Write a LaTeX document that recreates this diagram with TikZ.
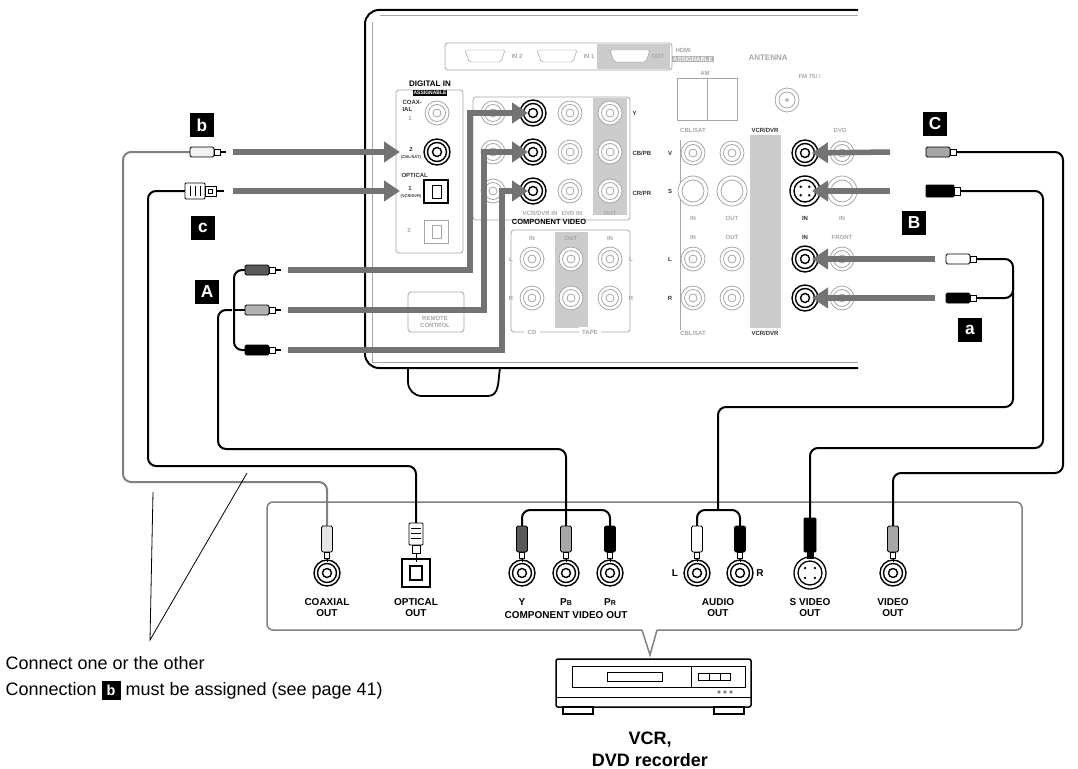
\documentclass[tikz,border=0pt]{standalone}
\usepackage{fontspec}
\setmainfont{Liberation Sans}
\usetikzlibrary{arrows.meta,calc}
\begin{document}
\begin{tikzpicture}[x=1pt,y=-1pt,
  hj/.pic={\draw[line width=1.4,fill=white] (0,0) circle (13) (0,0) circle (9.5) (0,0) circle (4.5);},
  gj/.pic={\draw[black!35,line width=0.8,fill=white] (0,0) circle (12) (0,0) circle (8.5) (0,0) circle (4);},
  hplug/.pic={\draw[line width=0.9,fill=#1,rounded corners=1.5] (-16,-5) rectangle (8,5); \draw[line width=0.9,fill=white] (8,-3) rectangle (14,3); \draw[line width=1.2] (14,0)--(20,0);},
  vplug/.pic={\draw[line width=0.9,fill=#1,rounded corners=1.5] (-5.5,-14) rectangle (5.5,12); \draw[line width=0.9,fill=white] (-2.5,12) rectangle (2.5,18); \draw[line width=0.9] (0,18)--(0,22);},
  arr/.style={black!55,line width=5.5,-{Triangle[length=16,width=20]}},
  cab/.style={line width=2,rounded corners=8},
  gcab/.style={cab,black!50},
  tag/.style={fill=black,text=white,font=\bfseries\LARGE,minimum size=24,inner sep=0},
  lab/.style={font=\bfseries\fontsize{10}{11}\selectfont,align=center},
  pl/.style={font=\bfseries\fontsize{6}{7}\selectfont,black!80},
  pg/.style={font=\bfseries\fontsize{6}{7}\selectfont,black!35},
]
\useasboundingbox (0,0) rectangle (1078,768);
% ---------------- receiver panel ----------------
\draw[line width=2,rounded corners=14] (858,10) -- (365,10) -- (365,368) -- (858,368);
\draw[line width=1.8] (408,368) -- (408,382) to[out=-90,in=180] (422,396) -- (488,396) to[out=0,in=-100] (500,368);
\draw[black!35,line width=1] (380,16) -- (858,16) (372,22) -- (372,362) -- (858,362);
% HDMI
\draw[black!35,line width=0.8,rounded corners=3] (445,43) rectangle (672,70);
\fill[black!20] (597,44) rectangle (670,69);
\foreach \x/\t in {465/IN 2,537/IN 1,610/} {\draw[black!45,fill=white,rounded corners=2] (\x,50) -- (\x+40,50) -- (\x+36,62) -- (\x+4,62) -- cycle; \node[pg,anchor=west] at (\x+43,56) {\t};}
\node[pg,anchor=west] at (648,56) {OUT};
\node[pg,anchor=west] at (672,50) {HDMI};
\node[pg,anchor=west,fill=black!30,text=white,inner sep=1] at (672,59) {ASSIGNABLE};
\node[pg,anchor=west,font=\bfseries\fontsize{8}{8}\selectfont] at (745,58) {ANTENNA};
\draw[black!35,line width=0.8] (677,78) rectangle (737,120) (707,78)--(707,120);
\node[pg] at (705,73) {AM}; \node[pg,anchor=west] at (795,76) {FM 75$\Omega$};
\draw[black!35,line width=0.8] (787,100) circle (12) (787,100) circle (8) (787,100) circle (1.5);
% Digital in
\draw[black!35,line width=0.8,rounded corners=3] (396,90) rectangle (463,253);
\node[font=\bfseries\fontsize{8}{8}\selectfont] at (430,84) {DIGITAL IN};
\node[font=\bfseries\fontsize{5}{5}\selectfont,fill=black,text=white,inner sep=1] at (430,93) {ASSIGNABLE};
\node[pl,align=left,anchor=north west] at (399,97) {COAX-\\IAL};
\node[pg] at (410,118) {1}; \pic at (437,113) {gj};
\node[pl] at (411,149) {2}; \node[pl,font=\bfseries\fontsize{4}{4}\selectfont] at (411,157) {(CBL/SAT)};
\pic at (437,152) {hj};
\node[pl,anchor=west] at (398,175) {OPTICAL};
\node[pl] at (410,188) {1}; \node[pl,font=\bfseries\fontsize{4}{4}\selectfont] at (411,196) {(VCR/DVR)};
\draw[line width=1.3] (424,180) rectangle (448,203); \draw[line width=1] (432,185) rectangle (441,198);
\node[pg] at (409,230) {2};
\draw[black!35,line width=0.8] (424,220) rectangle (448,243) (432,225) rectangle (441,238);
\draw[black!35,line width=0.8,rounded corners=3] (408,292) rectangle (464,332);
\node[pg,align=center] at (435,322) {REMOTE\\CONTROL};
% component video
\draw[black!35,line width=0.8,rounded corners=3] (473,97) rectangle (630,220);
\fill[black!20] (593,98) rectangle (627,215);
\foreach \y in {113,152,191} {\pic at (493,\y) {gj}; \pic at (570,\y) {gj}; \pic at (610,\y) {gj};}
\node[pl,anchor=west] at (629,113) {Y};
\node[pl,anchor=west] at (629,153) {CB/PB};
\node[pl,anchor=west] at (629,193) {CR/PR};
\node[pg] at (540,213) {VCR/DVR IN}; \node[pg] at (572,213) {DVD IN}; \node[pg] at (610,213) {OUT};
\node[font=\bfseries\fontsize{7.5}{8}\selectfont] at (549,222) {COMPONENT VIDEO};
\draw[black!35,line width=0.8,rounded corners=3] (511,230) rectangle (630,332);
\fill[black!20] (555,232) rectangle (588,328);
\foreach \x in {532,571,610} {\pic at (\x,259) {gj}; \pic at (\x,298) {gj};}
\node[pg] at (532,238) {IN}; \node[pg] at (571,238) {OUT}; \node[pg] at (610,238) {IN};
\node[pg] at (511,259) {L}; \node[pg] at (511,298) {R}; \node[pg] at (631,259) {L}; \node[pg] at (631,298) {R};
\node[pg,fill=white] at (532,332) {CD}; \node[pg,fill=white] at (590,332) {TAPE};
% right block
\draw[black!35,line width=0.8,rounded corners=3] (680,140) -- (680,330);
\fill[black!20] (750,135) rectangle (781,328);
\foreach \x in {693,732,842} {\pic at (\x,153) {gj}; \pic at (\x,259) {gj}; \pic at (\x,298) {gj};}
\foreach \x in {693,732,842} {\draw[black!35,line width=0.8,fill=white] (\x,191) circle (15) (\x,191) circle (11);}
\node[pg] at (693,130) {CBL/SAT}; \node[pl] at (765,130) {VCR/DVR}; \node[pg] at (840,130) {DVD};
\node[pg] at (693,333) {CBL/SAT}; \node[pl] at (765,333) {VCR/DVR};
\node[pl] at (670,153) {V}; \node[pl] at (670,191) {S}; \node[pl] at (670,259) {L}; \node[pl] at (670,298) {R};
\node[pg] at (693,218) {IN}; \node[pg] at (732,218) {OUT}; \node[pl] at (805,218) {IN}; \node[pg] at (842,218) {IN};
\node[pg] at (693,237) {IN}; \node[pg] at (732,237) {OUT}; \node[pl] at (805,237) {IN}; \node[pg] at (842,237) {FRONT};
% highlighted jacks
\pic at (533,113) {hj}; \pic at (533,152) {hj}; \pic at (533,191) {hj};
\pic at (805,153) {hj}; \pic at (805,259) {hj}; \pic at (805,298) {hj};
\draw[line width=1.4,fill=white] (805,191) circle (15) (805,191) circle (11);
\foreach \a in {45,135,-45,-135} \fill (805,191)++(\a:6) circle (1.3);
\coordinate (jY) at (528,113); \coordinate (jPB) at (528,152); \coordinate (jPR) at (528,191);
\coordinate (jCo) at (400,152); \coordinate (jOp) at (400,191);
\coordinate (jV) at (812,153); \coordinate (jS) at (812,191); \coordinate (jL) at (812,259); \coordinate (jR) at (812,298);
% ---------------- arrows ----------------
\coordinate (pb) at (206,152); \coordinate (pc) at (197,191);
\coordinate (pA1) at (261,270); \coordinate (pA2) at (261,310); \coordinate (pA3) at (261,350);
\coordinate (pC) at (942,152); \coordinate (pB) at (940,191); \coordinate (pa1) at (962,259); \coordinate (pa2) at (962,298);
\draw[arr] (233,152) -- (jCo);
\draw[arr] (233,191) -- (jOp);
\draw[arr] (288,270) -- (470,270) -- (470,113) -- (jY);
\draw[arr] (288,310) -- (484,310) -- (484,152) -- (jPB);
\draw[arr] (288,350) -- (502,350) -- (502,191) -- (jPR);
\draw[arr] (890,152) -- (jV);
\draw[arr] (890,191) -- (jS);
\draw[arr] (935,259) -- (jL);
\draw[arr] (935,298) -- (jR);
% ---------------- device panel ----------------
\draw[black!50,line width=1.5,rounded corners=6] (642,630) -- (267,630) -- (267,502) -- (1022,502) -- (1022,630) -- (657,630);
\draw[black!50,line width=1.5] (642,630) -- (650,655) -- (657,630);
\coordinate (oCo) at (327,573); \coordinate (oOp) at (416,573);
\coordinate (oY) at (522,573); \coordinate (oPB) at (566,573); \coordinate (oPR) at (610,573);
\coordinate (oL) at (697,573); \coordinate (oR) at (740,573); \coordinate (oS) at (810,573); \coordinate (oV) at (893,573);
\foreach \c in {oCo,oY,oPB,oPR,oL,oR,oV} \pic at (\c) {hj};
\draw[line width=1.3,fill=white] (oS) circle (16) (oS) circle (12);
\foreach \a in {45,135,-45,-135} \fill (oS)++(\a:7) circle (1.3);
\draw[line width=1.2] (402,559) rectangle (430,587); \draw[line width=1.1] ($(oOp)+(-6,-7)$) rectangle ($(oOp)+(6,7)$);
% cables (grey coax, black others)
\draw[gcab] (pb) ++(-16,0) -- (123,152) -- (123,482) -- (327,482) -- (327,526);
\draw[cab] (pc) ++(-12,0) -- (148,191) -- (148,466) -- (416,466) -- (416,523);
\draw[cab] (pA1) ++(-16,0) -- (234,270) -- (234,350) -- ($(pA3)+(-16,0)$);
\draw[cab,rounded corners=0] (234,310) -- ($(pA2)+(-16,0)$);
\draw[cab] (232,310) -- (218,310) -- (218,449) -- (566,449) -- (566,526);
\draw[cab] (522,526) -- (522,510) -- (610,510) -- (610,526);
\draw[cab] (pa1) ++(16,0) -- (1013,259) -- (1013,298) -- ($(pa2)+(16,0)$);
\draw[cab] (1013,280) -- (1013,407) -- (718,407) -- (718,510);
\draw[cab] (697,526) -- (697,510) -- (740,510) -- (740,526);
\draw[cab] (pB) ++(14,0) -- (1043,191) -- (1043,448) -- (810,448) -- (810,520);
\draw[cab] (pC) ++(16,0) -- (1063,152) -- (1063,473) -- (893,473) -- (893,526);
% vertical plugs
\pic at (327,540) {vplug=black!10};
\draw[line width=0.9,fill=white,rounded corners=1] (409,523) rectangle (423,545); \foreach \y in {528,533,538} \draw (411,\y)--(421,\y);
\draw[line width=0.9] (412,545) rectangle (420,553); \draw[line width=0.9] (416,553)--(416,562);
\pic at (522,540) {vplug=black!65};
\pic at (566,540) {vplug=black!35};
\pic at (610,540) {vplug=black};
\pic at (697,540) {vplug=white};
\pic at (740,540) {vplug=black};
\draw[line width=0.9,fill=black,rounded corners=1] (804,518) rectangle (816,552); \draw[line width=0.9,fill=black] (807,552) rectangle (813,558);
\pic at (893,540) {vplug=black!35};
% horizontal plugs
\pic at (pb) {hplug=black!5};
\draw[line width=0.9,fill=white,rounded corners=1] (185,183) rectangle (205,199); \foreach \x in {190,195,200} \draw (\x,186)--(\x,196);
\draw[line width=0.9,fill=white] (205,186) rectangle (216,196); \draw[line width=0.8] (208,189) rectangle (212,193); \draw[line width=1.2] (216,191)--(224,191);
\pic at (pA1) {hplug=black!65};
\pic at (pA2) {hplug=black!30};
\pic at (pA3) {hplug=black};
\begin{scope}[xscale=-1,shift={(-1880,0)}]
\pic at (pC) {hplug=black!35};
\pic at (pa1) {hplug=white};
\pic at (pa2) {hplug=black};
\draw[line width=0.9,fill=black,rounded corners=1] (926,185) rectangle (954,197); \draw[line width=0.9,fill=white] (920,187) rectangle (926,195); \draw[line width=1.2] (920,191)--(912,191);
\end{scope}
% labels in device
\node[lab] at (327,608) {COAXIAL\\OUT};
\node[lab] at (416,608) {OPTICAL\\OUT};
\node[lab] at (522,602) {Y}; \node[lab] at (566,602) {P{\fontsize{7}{7}\selectfont B}}; \node[lab] at (610,602) {P{\fontsize{7}{7}\selectfont R}};
\node[lab] at (566,615) {COMPONENT VIDEO OUT};
\node[lab] at (675,573) {L}; \node[lab] at (760,573) {R};
\node[lab] at (718,608) {AUDIO\\OUT};
\node[lab] at (810,608) {S VIDEO\\OUT};
\node[lab] at (893,608) {VIDEO\\OUT};
% tags
\node[tag] (tb) at (202,125) {b};
\node[tag] (tc) at (203,228) {c};
\node[tag] (tA) at (207,292) {A};
\node[tag] (tC) at (935,124) {C};
\node[tag] (tB) at (914,223) {B};
\node[tag] (ta) at (970,330) {a};
% callout
\coordinate (cv) at (150,640);
\draw[line width=0.8] (153,492) -- (cv) -- (247,473);
\node[anchor=west,font=\fontsize{18}{21}\selectfont] at (2,663) {Connect one or the other};
\node[anchor=west,font=\fontsize{18}{21}\selectfont] at (2,690) {Connection \tikz[baseline=-0.6ex]\node[tag,minimum size=19,font=\bfseries\Large]{b}; must be assigned (see page 41)};
% VCR icon
\draw[line width=1.5,rounded corners=2] (556,659) rectangle (751,707);
\draw[line width=1] (556,697) -- (751,697);
\draw[line width=1.2] (563,707) rectangle (593,714) (714,707) rectangle (744,714);
\draw[line width=1] (572,666) rectangle (745,687) (691,666)--(691,687) (607,672) rectangle (662,681) (698,673) rectangle (730,680) (709,673)--(709,680) (720,673)--(720,680);
\foreach \x in {719,725,731} \draw (\x,692) circle (1.4);
\node[font=\bfseries\fontsize{18}{22}\selectfont,align=center] at (650,749) {VCR,\\DVD recorder};
\end{tikzpicture}
\end{document}
